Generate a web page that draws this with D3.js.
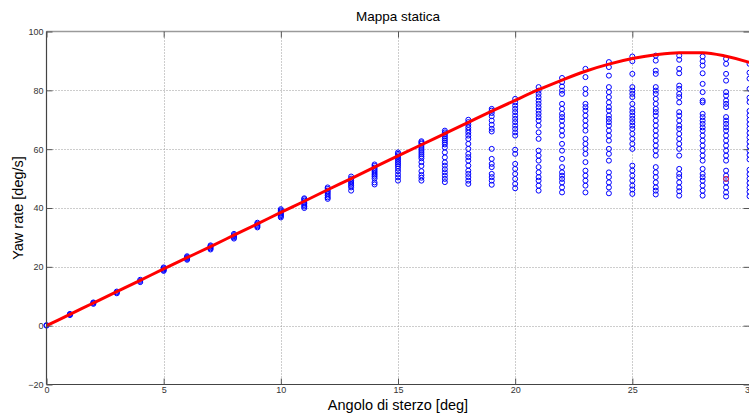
<!DOCTYPE html>
<html>
<head>
<meta charset="utf-8">
<script src="https://cdn.jsdelivr.net/npm/d3@7"></script>
<style>
  html, body { margin: 0; padding: 0; background: #fff; }
  svg { display: block; }
  text { font-family: "Liberation Sans", Arial, sans-serif; }
</style>
</head>
<body>
<svg id="chart" width="749" height="414"></svg>
<script>
// Steering angles of the measured columns [deg]
const steerDeg = [0, 1, 2, 3, 4, 5, 6, 7, 8, 9, 10, 11, 12, 13, 14, 15,
                  16, 17, 18, 19, 20, 21, 22, 23, 24, 25, 26, 27, 28, 29, 30];

// Measured yaw rate samples for each steering angle [deg/s]
const yawSamples = [
  [0, 0.2],
  [3.6, 3.8, 4.0],
  [7.4, 7.7, 7.9],
  [11.0, 11.3, 11.6],
  [14.8, 15.2, 15.6],
  [18.6, 18.9, 19.2, 19.5, 19.8],
  [22.4, 22.7, 23.0, 23.3, 23.6],
  [25.9, 26.3, 26.7, 27.0, 27.3],
  [29.6, 30.0, 30.4, 30.8, 31.2],
  [33.4, 33.8, 34.2, 34.6, 35.0],
  [36.8, 37.2, 37.6, 38.0, 38.4, 38.8, 39.2, 39.6],
  [40.0, 40.5, 41.0, 41.5, 42.0, 42.5, 43.0, 43.3],
  [43.1, 43.6, 44.2, 44.8, 45.4, 45.9, 46.5, 47.0],
  [45.9, 47.0, 47.6, 48.2, 48.8, 49.4, 50.0, 50.7],
  [48.0, 48.7, 50.0, 50.7, 51.3, 51.9, 52.5, 53.1, 53.7, 54.3, 54.8],
  [49.3, 50.4, 51.4, 52.5, 53.4, 54.2, 54.9, 55.5, 56.1, 56.7, 57.3, 57.9, 58.4, 58.9],
  [49.3, 50.3, 51.2, 52.5, 54.3, 55.6, 56.9, 57.6, 58.3, 59.0, 59.7, 60.4, 61.1, 61.8, 62.3, 62.7],
  [48.8, 49.9, 51.0, 52.1, 53.2, 54.4, 55.5, 57.2, 58.9, 60.6, 61.6, 62.3, 63.0, 63.7, 64.4, 65.1, 65.7, 66.3],
  [48.2, 49.3, 50.5, 51.6, 52.7, 54.4, 56.1, 57.3, 58.4, 60.1, 61.8, 63.5, 64.6, 65.6, 66.5, 67.4, 68.3, 69.2, 70.0],
  [47.9, 49.3, 50.5, 51.6, 53.9, 55.0, 56.7, 60.1, 66.0, 66.9, 68.3, 69.7, 71.2, 72.3, 73.1, 73.7],
  [46.7, 48.2, 49.9, 51.6, 53.3, 55.0, 58.4, 59.8, 64.6, 65.7, 66.9, 68.0, 69.2, 70.3, 71.4, 72.6, 73.7, 74.8, 75.9, 77.1],
  [45.9, 47.6, 49.3, 50.5, 52.1, 53.9, 56.1, 57.8, 59.5, 63.5, 65.7, 68.0, 69.7, 70.9, 72.0, 73.1, 74.3, 75.4, 76.5, 77.7, 78.8, 79.9, 81.1],
  [45.3, 47.0, 48.7, 49.9, 51.0, 52.1, 53.9, 56.7, 59.5, 61.8, 64.6, 66.3, 68.0, 69.7, 70.9, 72.0, 73.7, 75.4, 78.8, 79.9, 81.3, 82.8, 84.2],
  [45.3, 47.6, 49.3, 51.0, 52.7, 55.6, 58.4, 60.1, 61.8, 63.5, 66.3, 68.0, 69.7, 71.4, 73.1, 74.3, 75.4, 78.8, 80.5, 84.5, 87.3],
  [45.0, 47.0, 48.7, 50.5, 52.1, 56.1, 58.4, 60.1, 62.9, 64.6, 66.3, 68.0, 69.2, 70.3, 71.4, 73.1, 74.3, 75.9, 77.7, 79.4, 81.1, 85.0, 87.9, 89.6],
  [44.8, 46.3, 47.6, 49.3, 51.0, 52.7, 54.4, 60.1, 61.8, 63.5, 65.2, 66.9, 68.0, 69.2, 70.3, 71.4, 72.6, 73.7, 75.4, 77.7, 78.8, 79.9, 81.1, 85.6, 89.9, 91.5],
  [44.6, 45.9, 47.0, 48.7, 50.5, 52.1, 53.9, 57.8, 59.5, 61.2, 62.9, 64.6, 66.3, 68.0, 69.7, 71.4, 72.6, 73.7, 75.4, 77.1, 78.8, 79.9, 81.1, 85.6, 86.7, 90.1, 91.8],
  [44.2, 45.7, 47.0, 48.7, 50.5, 51.6, 53.3, 57.8, 60.1, 61.8, 63.5, 65.2, 66.9, 68.0, 69.7, 71.4, 72.6, 75.9, 77.7, 78.8, 80.5, 81.6, 85.8, 87.3, 90.4, 91.8],
  [44.2, 45.9, 47.6, 49.3, 50.5, 51.6, 53.3, 56.1, 57.8, 59.5, 61.2, 62.9, 64.6, 66.3, 67.4, 68.6, 69.7, 70.9, 72.0, 75.9, 76.5, 79.4, 82.2, 85.8, 88.4, 89.9, 91.5],
  [43.9, 45.3, 47.0, 48.7, 49.9, 51.0, 52.7, 56.1, 57.8, 59.5, 61.2, 62.9, 64.6, 66.3, 67.4, 68.6, 69.7, 70.9, 74.3, 75.4, 76.5, 78.2, 79.4, 83.3, 85.6, 89.0, 90.7],
  [44.0, 45.5, 47.0, 48.5, 50.0, 51.5, 53.0, 56.5, 58.0, 59.5, 61.0, 62.5, 64.0, 65.5, 67.0, 68.5, 70.0, 71.5, 73.0, 76.0, 77.5, 80.5, 84.0, 86.0, 89.0]
];

// Single highlighted sample [angle, yaw rate]
const highlightSample = [29, 49.9];

// Static map curve: steering angle [deg] -> yaw rate [deg/s]
const mapAngles = [0, 1, 2, 3, 4, 5, 6, 7, 8, 9, 10, 11, 12, 13, 14, 15,
                   16, 17, 18, 19, 20, 21, 22, 23, 24, 25, 26, 27, 28, 29, 30];
const mapYaw = [0, 3.85, 7.7, 11.55, 15.4, 19.3, 23.1, 26.9, 30.75, 34.6, 38.5,
                42.3, 46.2, 50.0, 53.9, 57.7, 61.5, 65.3, 69.1, 72.9, 76.6,
                80.2, 83.5, 86.5, 88.9, 90.8, 92.1, 92.8, 92.8, 91.6, 89.5];

// Axis ticks
const xTicks = [0, 5, 10, 15, 20, 25, 30];
const yTicks = [-20, 0, 20, 40, 60, 80, 100];

const svg = d3.select("#chart");
const plotLeft = 46.5, plotRight = 749.5, plotTop = 31.5, plotBottom = 384.5;

const x = d3.scaleLinear().domain([0, 30]).range([plotLeft, plotRight]);
const y = d3.scaleLinear().domain([-20, 100]).range([plotBottom, plotTop]);

// Dotted grid
const grid = svg.append("g")
  .attr("stroke", "#9a9a9a")
  .attr("stroke-width", 1)
  .attr("stroke-dasharray", "1,2");
grid.selectAll("line.v").data(xTicks.filter(d => d > 0 && d < 30)).join("line")
  .attr("class", "v")
  .attr("x1", d => Math.round(x(d)) + 0.5).attr("x2", d => Math.round(x(d)) + 0.5)
  .attr("y1", plotTop).attr("y2", plotBottom);
grid.selectAll("line.h").data(yTicks.filter(d => d > -20 && d < 100)).join("line")
  .attr("class", "h")
  .attr("y1", d => Math.round(y(d)) + 0.5).attr("y2", d => Math.round(y(d)) + 0.5)
  .attr("x1", plotLeft).attr("x2", plotRight);

// Measurement scatter (open circles)
const points = [];
steerDeg.forEach((a, i) => yawSamples[i].forEach(v => points.push([a, v])));
svg.append("g")
  .selectAll("circle").data(points).join("circle")
  .attr("cx", d => x(d[0]))
  .attr("cy", d => y(d[1]))
  .attr("r", 2.5)
  .attr("fill", "none")
  .attr("stroke", "#0000ff")
  .attr("stroke-width", 1);

svg.append("circle")
  .attr("cx", x(highlightSample[0]))
  .attr("cy", y(highlightSample[1]))
  .attr("r", 2.5)
  .attr("fill", "none")
  .attr("stroke", "#ff3030")
  .attr("stroke-width", 1);

// Static map curve
const line = d3.line()
  .x((d, i) => x(mapAngles[i]))
  .y(d => y(d))
  .curve(d3.curveMonotoneX);
svg.append("path")
  .datum(mapYaw)
  .attr("d", line)
  .attr("fill", "none")
  .attr("stroke", "#ff0000")
  .attr("stroke-width", 3)
  .attr("stroke-linejoin", "round");

// Axes box
const box = svg.append("g");
box.append("line").attr("x1", plotLeft).attr("x2", plotRight).attr("y1", plotTop).attr("y2", plotTop)
  .attr("stroke", "#9a9a9a").attr("stroke-width", 1.5);
box.append("line").attr("x1", plotLeft).attr("x2", plotLeft).attr("y1", plotTop).attr("y2", plotBottom)
  .attr("stroke", "#444").attr("stroke-width", 1.2);
box.append("line").attr("x1", plotLeft).attr("x2", plotRight).attr("y1", plotBottom).attr("y2", plotBottom)
  .attr("stroke", "#444").attr("stroke-width", 1.2);

// Inward ticks on all sides
const tickLen = 6;
const xAxisB = d3.axisBottom(x).tickValues(xTicks).tickSize(-tickLen).tickPadding(3)
  .tickFormat(d3.format("d"));
const gx = svg.append("g").attr("transform", `translate(0,${plotBottom})`).call(xAxisB);
gx.select(".domain").remove();
gx.selectAll(".tick line").attr("stroke", "#555");
gx.selectAll(".tick text").attr("y", 2.5).attr("font-size", 9).attr("fill", "#333")
  .attr("font-family", "Liberation Sans, Arial, sans-serif");

const xAxisT = d3.axisTop(x).tickValues(xTicks).tickSize(-tickLen).tickFormat("");
const gxt = svg.append("g").attr("transform", `translate(0,${plotTop})`).call(xAxisT);
gxt.select(".domain").remove();
gxt.selectAll(".tick line").attr("stroke", "#555");

const yAxisL = d3.axisLeft(y).tickValues(yTicks).tickSize(-tickLen).tickPadding(3)
  .tickFormat(d3.format("d"));
const gy = svg.append("g").attr("transform", `translate(${plotLeft},0)`).call(yAxisL);
gy.select(".domain").remove();
gy.selectAll(".tick line").attr("stroke", "#555");
gy.selectAll(".tick text").attr("x", -3).attr("font-size", 9).attr("fill", "#333")
  .attr("font-family", "Liberation Sans, Arial, sans-serif");

const yAxisR = d3.axisRight(y).tickValues(yTicks).tickSize(-tickLen).tickFormat("");
const gyr = svg.append("g").attr("transform", `translate(${plotRight},0)`).call(yAxisR);
gyr.select(".domain").remove();
gyr.selectAll(".tick line").attr("stroke", "#555");

// Title and axis labels
svg.append("text")
  .attr("x", (plotLeft + plotRight) / 2).attr("y", 21)
  .attr("text-anchor", "middle")
  .attr("font-size", 13.5).attr("fill", "#000")
  .text("Mappa statica");

svg.append("text")
  .attr("x", (plotLeft + plotRight) / 2).attr("y", 409.5)
  .attr("text-anchor", "middle")
  .attr("font-size", 14.5).attr("fill", "#000")
  .text("Angolo di sterzo [deg]");

svg.append("text")
  .attr("transform", `translate(23,${(plotTop + plotBottom) / 2}) rotate(-90)`)
  .attr("text-anchor", "middle")
  .attr("font-size", 14.5).attr("fill", "#000")
  .text("Yaw rate [deg/s]");
</script>
</body>
</html>
